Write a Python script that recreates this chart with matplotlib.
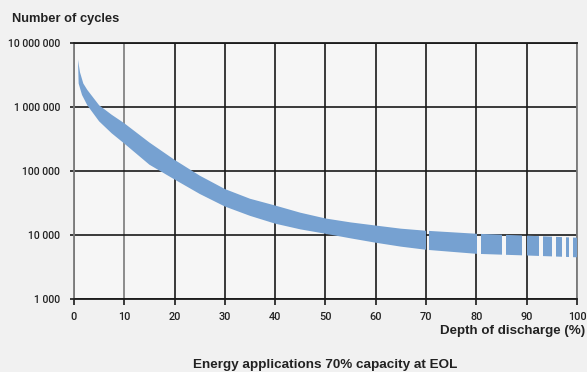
import numpy as np
import matplotlib
matplotlib.use("Agg")
import matplotlib.pyplot as plt
from matplotlib.patches import Rectangle

# upper edge of the band (depth of discharge %, cycles)
upper_dod = [0.8, 1.2, 1.86, 2.65, 5, 7.5, 10, 15, 20, 25, 30, 35, 40, 45,
             50, 55, 60, 65, 70, 80, 90, 100]
upper_cycles = [5.5e6, 3.5e6, 2.34e6, 1.86e6, 1.07e6, 7.6e5, 5.6e5, 2.8e5,
                1.5e5, 8.5e4, 5.25e4, 3.7e4, 2.9e4, 2.24e4, 1.82e4, 1.58e4,
                1.41e4, 1.26e4, 1.17e4, 1.05e4, 9.8e3, 9.1e3]

# lower edge of the band
lower_dod = [0.8, 0.93, 1.6, 2.65, 5, 7.5, 10, 15, 20, 25, 30, 35, 40, 45,
             50, 55, 60, 65, 70, 80, 90, 100]
lower_cycles = [5.5e6, 2.34e6, 1.55e6, 1.07e6, 6.0e5, 3.9e5, 2.7e5, 1.26e5,
                7.4e4, 4.4e4, 2.8e4, 2.0e4, 1.51e4, 1.23e4, 1.05e4, 8.9e3,
                7.6e3, 6.6e3, 5.9e3, 5.1e3, 4.8e3, 4.5e3]

# pieces of the band (the right end is broken up)
pieces = [(0, 69.9), (70.6, 80.2), (81.0, 85.0), (85.9, 89.1), (90.0, 92.4),
          (93.2, 95.0), (95.8, 97.0), (97.8, 98.5), (99.3, 100)]

x_ticks = list(range(0, 101, 10))
y_ticks = [1e3, 1e4, 1e5, 1e6, 1e7]
y_labels = ["1 000", "10 000", "100 000", "1 000 000", "10 000 000"]

band_color = "#76a1d1"
tick_font = ["Roboto", "DejaVu Sans"]
text_font = ["Liberation Sans", "DejaVu Sans"]

fig = plt.figure(figsize=(5.87, 3.72), dpi=100, facecolor="#f1f1f1")
ax = fig.add_axes([0.126, 0.196, 0.857, 0.688])
ax.set_facecolor("#f6f6f6")
ax.set_yscale("log")
ax.set_xlim(0, 100)
ax.set_ylim(1e3, 1e7)

# band polygon, drawn once per piece and clipped to it
xs = np.r_[upper_dod, lower_dod[::-1]]
ys = np.r_[upper_cycles, lower_cycles[::-1]]
for a, b in pieces:
    poly = ax.fill(xs, ys, color=band_color, lw=0, zorder=3)[0]
    rect = Rectangle((a, 1e2), b - a, 1e8, transform=ax.transData)
    poly.set_clip_path(rect)

# grid
ax.set_xticks(x_ticks)
ax.set_yticks(y_ticks)
ax.minorticks_off()
ax.set_yticks([], minor=True)
ax.grid(True, color="#1a1a1a", lw=1.2, zorder=1)
for i, gl in enumerate(ax.xaxis.get_gridlines()):
    if x_ticks[i] in (0, 10, 100):
        gl.set_color("#7a7a7a")

for side in ["top", "bottom"]:
    ax.spines[side].set_color("#1a1a1a")
    ax.spines[side].set_linewidth(1.3)
for side in ["left", "right"]:
    ax.spines[side].set_color("#7a7a7a")
    ax.spines[side].set_linewidth(1.3)

ax.set_yticklabels(y_labels, family=tick_font, fontsize=7.5, fontweight="medium",
                   color="#222222")
ax.set_xticklabels([str(t) for t in x_ticks], family=tick_font, fontsize=7.8,
                   fontweight="medium", color="#222222")
ax.tick_params(axis="y", length=3, width=1.2, color="#1a1a1a", pad=7)
ax.tick_params(axis="x", length=4, width=1.2, color="#1a1a1a", pad=5)

fig.text(12 / 587, 1 - 19 / 372, "Number of cycles", family=text_font,
         fontsize=9.3, fontweight="bold", color="#222222", va="center", ha="left")
fig.text(585 / 587, 1 - 331 / 372, "Depth of discharge (%)", family=text_font,
         fontsize=9.6, fontweight="bold", color="#222222", va="center", ha="right")
fig.text(325 / 587, 1 - 365 / 372, "Energy applications 70% capacity at EOL",
         family=text_font, fontsize=9.7, fontweight="bold", color="#222222",
         va="center", ha="center")

fig.savefig("out.png", dpi=100, facecolor=fig.get_facecolor())
